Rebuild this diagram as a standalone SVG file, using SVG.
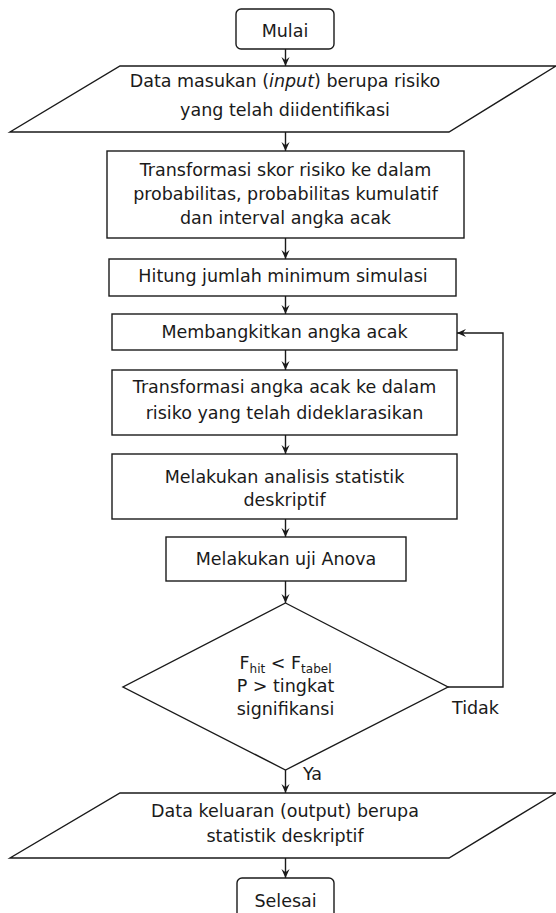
<svg xmlns="http://www.w3.org/2000/svg" width="556" height="913" viewBox="0 0 556 913">
<style>
.s{fill:#fff;stroke:#1a1a1a;stroke-width:1.4}
.t{font-family:"DejaVu Sans",Verdana,sans-serif;font-size:17.5px;fill:#1a1a1a;text-anchor:middle}
.l{font-family:"DejaVu Sans",Verdana,sans-serif;font-size:17.5px;fill:#1a1a1a}
.c{fill:none;stroke:#1a1a1a;stroke-width:1.4}
</style>
<defs>
<marker id="a" viewBox="0 0 10 10" refX="10" refY="5" markerWidth="9" markerHeight="9" markerUnits="userSpaceOnUse" orient="auto">
<path d="M0,0.5 L10,5 L0,9.5 L3.5,5 z" fill="#1a1a1a"/>
</marker>
</defs>
<rect width="556" height="913" fill="#fff"/>
<g id="connectors">
<path class="c" d="M285.5,49 V66" marker-end="url(#a)"/>
<path class="c" d="M285.5,132 V151" marker-end="url(#a)"/>
<path class="c" d="M285.5,238 V259" marker-end="url(#a)"/>
<path class="c" d="M285.5,296 V314" marker-end="url(#a)"/>
<path class="c" d="M285.5,350 V370" marker-end="url(#a)"/>
<path class="c" d="M285.5,435 V454" marker-end="url(#a)"/>
<path class="c" d="M285.5,519 V537" marker-end="url(#a)"/>
<path class="c" d="M285.5,581 V603" marker-end="url(#a)"/>
<path class="c" d="M285.5,770 V793" marker-end="url(#a)"/>
<path class="c" d="M285.5,858 V878" marker-end="url(#a)"/>
<path class="c" d="M448,687 H503 V333 H457" marker-end="url(#a)"/>
</g>
<g id="mulai">
<rect class="s" x="236" y="9" width="98" height="40" rx="5"/>
<text class="t" x="285" y="37">Mulai</text>
</g>
<g id="input">
<polygon class="s" points="120,66 556,66 449,132 10,132"/>
<text class="t" x="285" y="87">Data masukan (<tspan font-style="italic">input</tspan>) berupa risiko</text>
<text class="t" x="285" y="116">yang telah diidentifikasi</text>
</g>
<g id="transformasi-skor">
<rect class="s" x="107" y="151" width="357" height="87"/>
<text class="t" x="285.5" y="175.5">Transformasi skor risiko ke dalam</text>
<text class="t" x="285.5" y="199.5">probabilitas, probabilitas kumulatif</text>
<text class="t" x="285.5" y="223.5">dan interval angka acak</text>
</g>
<g id="hitung">
<rect class="s" x="109" y="259" width="347" height="37"/>
<text class="t" x="283" y="282">Hitung jumlah minimum simulasi</text>
</g>
<g id="membangkitkan">
<rect class="s" x="112" y="314" width="345" height="36"/>
<text class="t" x="284.5" y="337.5">Membangkitkan angka acak</text>
</g>
<g id="transformasi-angka">
<rect class="s" x="112" y="370" width="345" height="65"/>
<text class="t" x="284.5" y="392.5">Transformasi angka acak ke dalam</text>
<text class="t" x="284.5" y="418.5">risiko yang telah dideklarasikan</text>
</g>
<g id="analisis">
<rect class="s" x="112" y="454" width="345" height="65"/>
<text class="t" x="284.5" y="483">Melakukan analisis statistik</text>
<text class="t" x="284.5" y="506">deskriptif</text>
</g>
<g id="anova">
<rect class="s" x="166" y="537" width="240" height="44"/>
<text class="t" x="286" y="565">Melakukan uji Anova</text>
</g>
<g id="keputusan">
<polygon class="s" points="285.5,603 448,687 285.5,770 123,687"/>
<text class="t" x="285.5" y="669">F<tspan font-size="12" dy="4">hit</tspan><tspan dy="-4"> &lt; F</tspan><tspan font-size="12" dy="4">tabel</tspan></text>
<text class="t" x="285.5" y="692">P &gt; tingkat</text>
<text class="t" x="285.5" y="715">signifikansi</text>
<text class="l" x="452" y="714">Tidak</text>
<text class="l" x="303" y="780">Ya</text>
</g>
<g id="output">
<polygon class="s" points="120,793 556,793 449,858 10,858"/>
<text class="t" x="285" y="817">Data keluaran (output) berupa</text>
<text class="t" x="285" y="842">statistik deskriptif</text>
</g>
<g id="selesai">
<rect class="s" x="237" y="878" width="97" height="44" rx="5"/>
<text class="t" x="285.5" y="907">Selesai</text>
</g>
</svg>
